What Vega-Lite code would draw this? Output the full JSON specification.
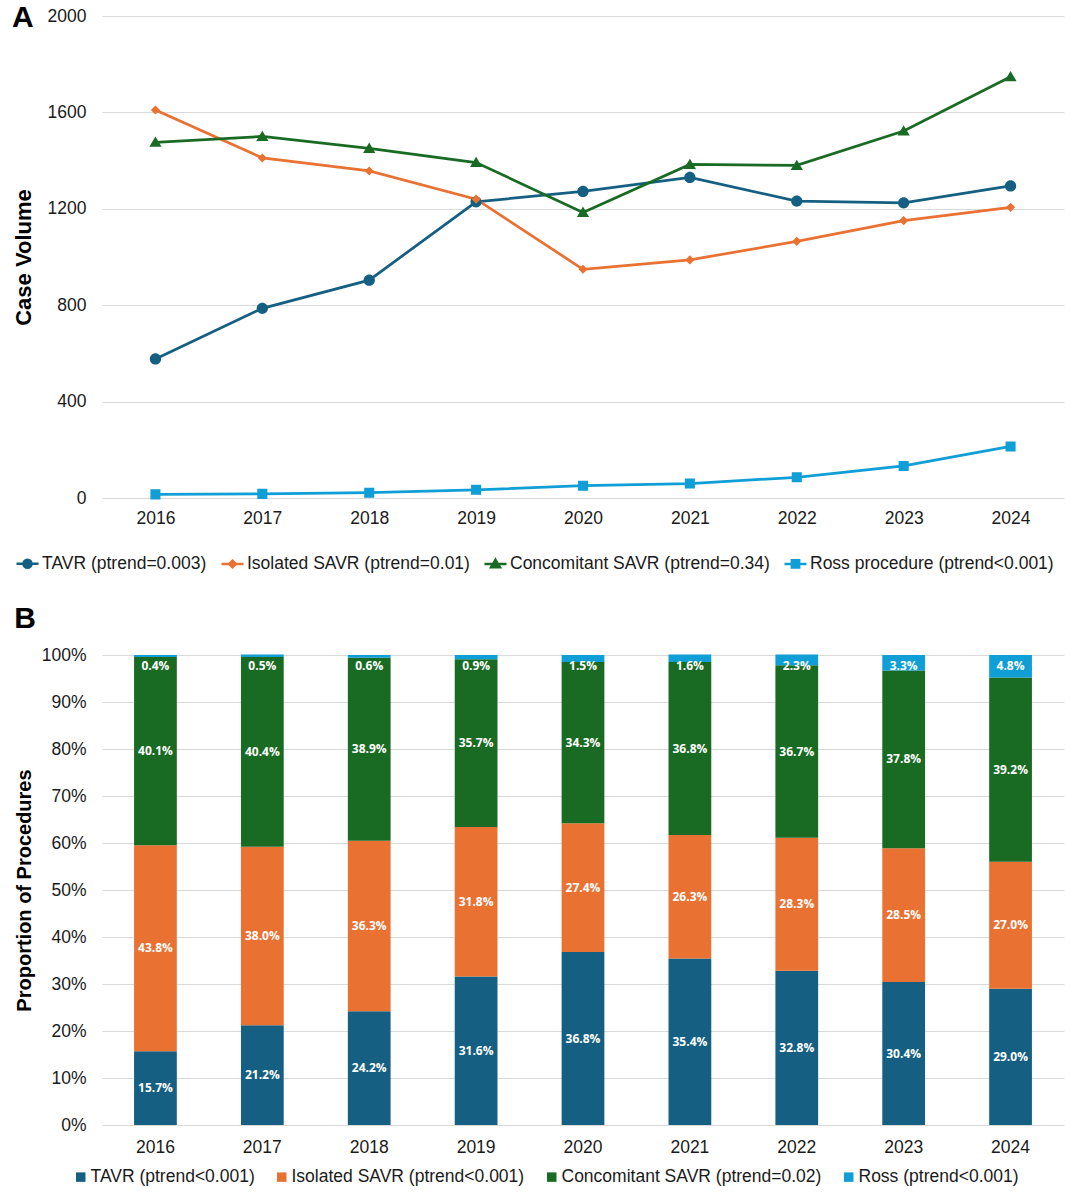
{
  "$schema": "https://vega.github.io/schema/vega-lite/v6.json",
  "background": "white",
  "padding": {"left": 12, "top": 3, "right": 14, "bottom": 5},
  "spacing": 31,
  "resolve": {"scale": {"color": "independent", "shape": "independent"}, "legend": {"color": "independent", "shape": "independent"}},
  "config": {
    "font": "Liberation Sans",
    "view": {"stroke": null},
    "axis": {
      "labelFontSize": 17.5,
      "labelColor": "#1a1a1a",
      "titleColor": "#000000",
      "titleFontWeight": "bold",
      "gridColor": "#d9d9d9",
      "gridWidth": 1,
      "domain": false,
      "ticks": false
    },
    "legend": {"labelFontSize": 17.5, "labelColor": "#1a1a1a", "title": null, "labelLimit": 0}
  },
  "datasets": {
    "volume": [
      {"year": 2016, "procedure": "TAVR (ptrend=0.003)", "cases": 577},
      {"year": 2017, "procedure": "TAVR (ptrend=0.003)", "cases": 787},
      {"year": 2018, "procedure": "TAVR (ptrend=0.003)", "cases": 904},
      {"year": 2019, "procedure": "TAVR (ptrend=0.003)", "cases": 1229},
      {"year": 2020, "procedure": "TAVR (ptrend=0.003)", "cases": 1272},
      {"year": 2021, "procedure": "TAVR (ptrend=0.003)", "cases": 1330},
      {"year": 2022, "procedure": "TAVR (ptrend=0.003)", "cases": 1232},
      {"year": 2023, "procedure": "TAVR (ptrend=0.003)", "cases": 1225},
      {"year": 2024, "procedure": "TAVR (ptrend=0.003)", "cases": 1295},
      {"year": 2016, "procedure": "Isolated SAVR (ptrend=0.01)", "cases": 1610},
      {"year": 2017, "procedure": "Isolated SAVR (ptrend=0.01)", "cases": 1411},
      {"year": 2018, "procedure": "Isolated SAVR (ptrend=0.01)", "cases": 1357},
      {"year": 2019, "procedure": "Isolated SAVR (ptrend=0.01)", "cases": 1240},
      {"year": 2020, "procedure": "Isolated SAVR (ptrend=0.01)", "cases": 949},
      {"year": 2021, "procedure": "Isolated SAVR (ptrend=0.01)", "cases": 988},
      {"year": 2022, "procedure": "Isolated SAVR (ptrend=0.01)", "cases": 1065},
      {"year": 2023, "procedure": "Isolated SAVR (ptrend=0.01)", "cases": 1151},
      {"year": 2024, "procedure": "Isolated SAVR (ptrend=0.01)", "cases": 1206},
      {"year": 2016, "procedure": "Concomitant SAVR (ptrend=0.34)", "cases": 1476},
      {"year": 2017, "procedure": "Concomitant SAVR (ptrend=0.34)", "cases": 1500},
      {"year": 2018, "procedure": "Concomitant SAVR (ptrend=0.34)", "cases": 1451},
      {"year": 2019, "procedure": "Concomitant SAVR (ptrend=0.34)", "cases": 1392},
      {"year": 2020, "procedure": "Concomitant SAVR (ptrend=0.34)", "cases": 1185},
      {"year": 2021, "procedure": "Concomitant SAVR (ptrend=0.34)", "cases": 1384},
      {"year": 2022, "procedure": "Concomitant SAVR (ptrend=0.34)", "cases": 1380},
      {"year": 2023, "procedure": "Concomitant SAVR (ptrend=0.34)", "cases": 1523},
      {"year": 2024, "procedure": "Concomitant SAVR (ptrend=0.34)", "cases": 1748},
      {"year": 2016, "procedure": "Ross procedure (ptrend<0.001)", "cases": 15},
      {"year": 2017, "procedure": "Ross procedure (ptrend<0.001)", "cases": 17},
      {"year": 2018, "procedure": "Ross procedure (ptrend<0.001)", "cases": 22},
      {"year": 2019, "procedure": "Ross procedure (ptrend<0.001)", "cases": 34},
      {"year": 2020, "procedure": "Ross procedure (ptrend<0.001)", "cases": 51},
      {"year": 2021, "procedure": "Ross procedure (ptrend<0.001)", "cases": 60},
      {"year": 2022, "procedure": "Ross procedure (ptrend<0.001)", "cases": 86},
      {"year": 2023, "procedure": "Ross procedure (ptrend<0.001)", "cases": 133},
      {"year": 2024, "procedure": "Ross procedure (ptrend<0.001)", "cases": 214}
    ],
    "share": [
      {"year": 2016, "procedure": "TAVR (ptrend<0.001)", "share": 0.157},
      {"year": 2017, "procedure": "TAVR (ptrend<0.001)", "share": 0.212},
      {"year": 2018, "procedure": "TAVR (ptrend<0.001)", "share": 0.242},
      {"year": 2019, "procedure": "TAVR (ptrend<0.001)", "share": 0.316},
      {"year": 2020, "procedure": "TAVR (ptrend<0.001)", "share": 0.368},
      {"year": 2021, "procedure": "TAVR (ptrend<0.001)", "share": 0.354},
      {"year": 2022, "procedure": "TAVR (ptrend<0.001)", "share": 0.328},
      {"year": 2023, "procedure": "TAVR (ptrend<0.001)", "share": 0.304},
      {"year": 2024, "procedure": "TAVR (ptrend<0.001)", "share": 0.290},
      {"year": 2016, "procedure": "Isolated SAVR (ptrend<0.001)", "share": 0.438},
      {"year": 2017, "procedure": "Isolated SAVR (ptrend<0.001)", "share": 0.380},
      {"year": 2018, "procedure": "Isolated SAVR (ptrend<0.001)", "share": 0.363},
      {"year": 2019, "procedure": "Isolated SAVR (ptrend<0.001)", "share": 0.318},
      {"year": 2020, "procedure": "Isolated SAVR (ptrend<0.001)", "share": 0.274},
      {"year": 2021, "procedure": "Isolated SAVR (ptrend<0.001)", "share": 0.263},
      {"year": 2022, "procedure": "Isolated SAVR (ptrend<0.001)", "share": 0.283},
      {"year": 2023, "procedure": "Isolated SAVR (ptrend<0.001)", "share": 0.285},
      {"year": 2024, "procedure": "Isolated SAVR (ptrend<0.001)", "share": 0.270},
      {"year": 2016, "procedure": "Concomitant SAVR (ptrend=0.02)", "share": 0.401},
      {"year": 2017, "procedure": "Concomitant SAVR (ptrend=0.02)", "share": 0.404},
      {"year": 2018, "procedure": "Concomitant SAVR (ptrend=0.02)", "share": 0.389},
      {"year": 2019, "procedure": "Concomitant SAVR (ptrend=0.02)", "share": 0.357},
      {"year": 2020, "procedure": "Concomitant SAVR (ptrend=0.02)", "share": 0.343},
      {"year": 2021, "procedure": "Concomitant SAVR (ptrend=0.02)", "share": 0.368},
      {"year": 2022, "procedure": "Concomitant SAVR (ptrend=0.02)", "share": 0.367},
      {"year": 2023, "procedure": "Concomitant SAVR (ptrend=0.02)", "share": 0.378},
      {"year": 2024, "procedure": "Concomitant SAVR (ptrend=0.02)", "share": 0.392},
      {"year": 2016, "procedure": "Ross (ptrend<0.001)", "share": 0.004},
      {"year": 2017, "procedure": "Ross (ptrend<0.001)", "share": 0.005},
      {"year": 2018, "procedure": "Ross (ptrend<0.001)", "share": 0.006},
      {"year": 2019, "procedure": "Ross (ptrend<0.001)", "share": 0.009},
      {"year": 2020, "procedure": "Ross (ptrend<0.001)", "share": 0.015},
      {"year": 2021, "procedure": "Ross (ptrend<0.001)", "share": 0.016},
      {"year": 2022, "procedure": "Ross (ptrend<0.001)", "share": 0.023},
      {"year": 2023, "procedure": "Ross (ptrend<0.001)", "share": 0.033},
      {"year": 2024, "procedure": "Ross (ptrend<0.001)", "share": 0.048}
    ]
  },
  "vconcat": [
    {
      "width": 962,
      "height": 482,
      "title": {"text": "A", "anchor": "start", "frame": "bounds", "fontSize": 30, "fontWeight": "bold", "offset": -26},
      "data": {"name": "volume"},
      "encoding": {
        "x": {
          "field": "year", "type": "ordinal",
          "axis": {"title": null, "labelAngle": 0, "labelPadding": 11, "grid": false}
        },
        "y": {
          "field": "cases", "type": "quantitative",
          "scale": {"domain": [0, 2000]},
          "axis": {"values": [0, 400, 800, 1200, 1600, 2000], "format": "d", "title": "Case Volume", "titleFontSize": 22, "labelPadding": 16, "titlePadding": 12}
        },
        "color": {
          "field": "procedure", "type": "nominal",
          "scale": {
            "domain": ["TAVR (ptrend=0.003)", "Isolated SAVR (ptrend=0.01)", "Concomitant SAVR (ptrend=0.34)", "Ross procedure (ptrend<0.001)"],
            "range": ["#156082", "#E97132", "#196B24", "#0F9ED5"]
          },
          "legend": {"orient": "none", "direction": "horizontal", "legendX": -87, "legendY": 535, "symbolSize": 484, "symbolStrokeWidth": 2.5, "labelOffset": 2, "columnPadding": 9}
        }
      },
      "layer": [
        {"mark": {"type": "line", "strokeWidth": 2.75}},
        {
          "mark": {"type": "point", "filled": true, "opacity": 1, "size": 930, "strokeWidth": 0},
          "encoding": {
            "shape": {
              "field": "procedure", "type": "nominal",
              "scale": {
                "domain": ["TAVR (ptrend=0.003)", "Isolated SAVR (ptrend=0.01)", "Concomitant SAVR (ptrend=0.34)", "Ross procedure (ptrend<0.001)"],
                "range": [
                  "M-1,0H1M0.37,0A0.37,0.37,0,1,1,-0.37,0A0.37,0.37,0,1,1,0.37,0Z",
                  "M-1,0H1M0,-0.3L0.3,0L0,0.3L-0.3,0Z",
                  "M-1,0H1M0,-0.38L0.4,0.3L-0.4,0.3Z",
                  "M-1,0H1M-0.33,-0.33H0.33V0.33H-0.33Z"
                ]
              },
              "legend": {"orient": "none", "direction": "horizontal", "legendX": -87, "legendY": 535, "symbolSize": 484, "symbolStrokeWidth": 2.5, "labelOffset": 2, "columnPadding": 9}
            }
          }
        }
      ]
    },
    {
      "width": 962,
      "height": 470,
      "title": {"text": "B", "anchor": "start", "frame": "bounds", "fontSize": 30, "fontWeight": "bold", "offset": 12},
      "data": {"name": "share"},
      "transform": [
        {"calculate": "indexof(['TAVR (ptrend<0.001)', 'Isolated SAVR (ptrend<0.001)', 'Concomitant SAVR (ptrend=0.02)', 'Ross (ptrend<0.001)'], datum.procedure)", "as": "stackRank"}
      ],
      "encoding": {
        "x": {
          "field": "year", "type": "ordinal",
          "scale": {"paddingInner": 0.6, "paddingOuter": 0.3},
          "axis": {"title": null, "labelAngle": 0, "labelPadding": 13, "grid": false}
        },
        "y": {
          "field": "share", "type": "quantitative", "stack": "zero",
          "scale": {"domain": [0, 1]},
          "axis": {"values": [0, 0.1, 0.2, 0.3, 0.4, 0.5, 0.6, 0.7, 0.8, 0.9, 1], "format": ".0%", "title": "Proportion of Procedures", "titleFontSize": 20, "labelPadding": 16, "titlePadding": 7}
        },
        "order": {"field": "stackRank", "type": "quantitative", "sort": "ascending"},
        "color": {
          "field": "procedure", "type": "nominal",
          "scale": {
            "domain": ["TAVR (ptrend<0.001)", "Isolated SAVR (ptrend<0.001)", "Concomitant SAVR (ptrend=0.02)", "Ross (ptrend<0.001)"],
            "range": ["#156082", "#E97132", "#196B24", "#0F9ED5"]
          },
          "legend": {"orient": "none", "direction": "horizontal", "legendX": -30, "legendY": 513, "symbolType": "square", "symbolSize": 90, "labelOffset": 1, "columnPadding": 18}
        }
      },
      "layer": [
        {"mark": {"type": "bar"}},
        {
          "transform": [{"filter": "datum.procedure != 'Ross (ptrend<0.001)'"}],
          "mark": {"type": "text", "font": "Open Sans", "fontWeight": "bold", "fontSize": 12},
          "encoding": {
            "y": {"field": "share", "type": "quantitative", "stack": "zero", "bandPosition": 0.5},
            "fill": {"value": "white"},
            "text": {"field": "share", "type": "quantitative", "format": ".1%"}
          }
        },
        {
          "transform": [{"filter": "datum.procedure == 'Ross (ptrend<0.001)'"}],
          "mark": {"type": "text", "font": "Open Sans", "fontWeight": "bold", "fontSize": 12, "dy": 11},
          "encoding": {
            "y": {"datum": 1},
            "fill": {"value": "white"},
            "text": {"field": "share", "type": "quantitative", "format": ".1%"}
          }
        }
      ]
    }
  ]
}
